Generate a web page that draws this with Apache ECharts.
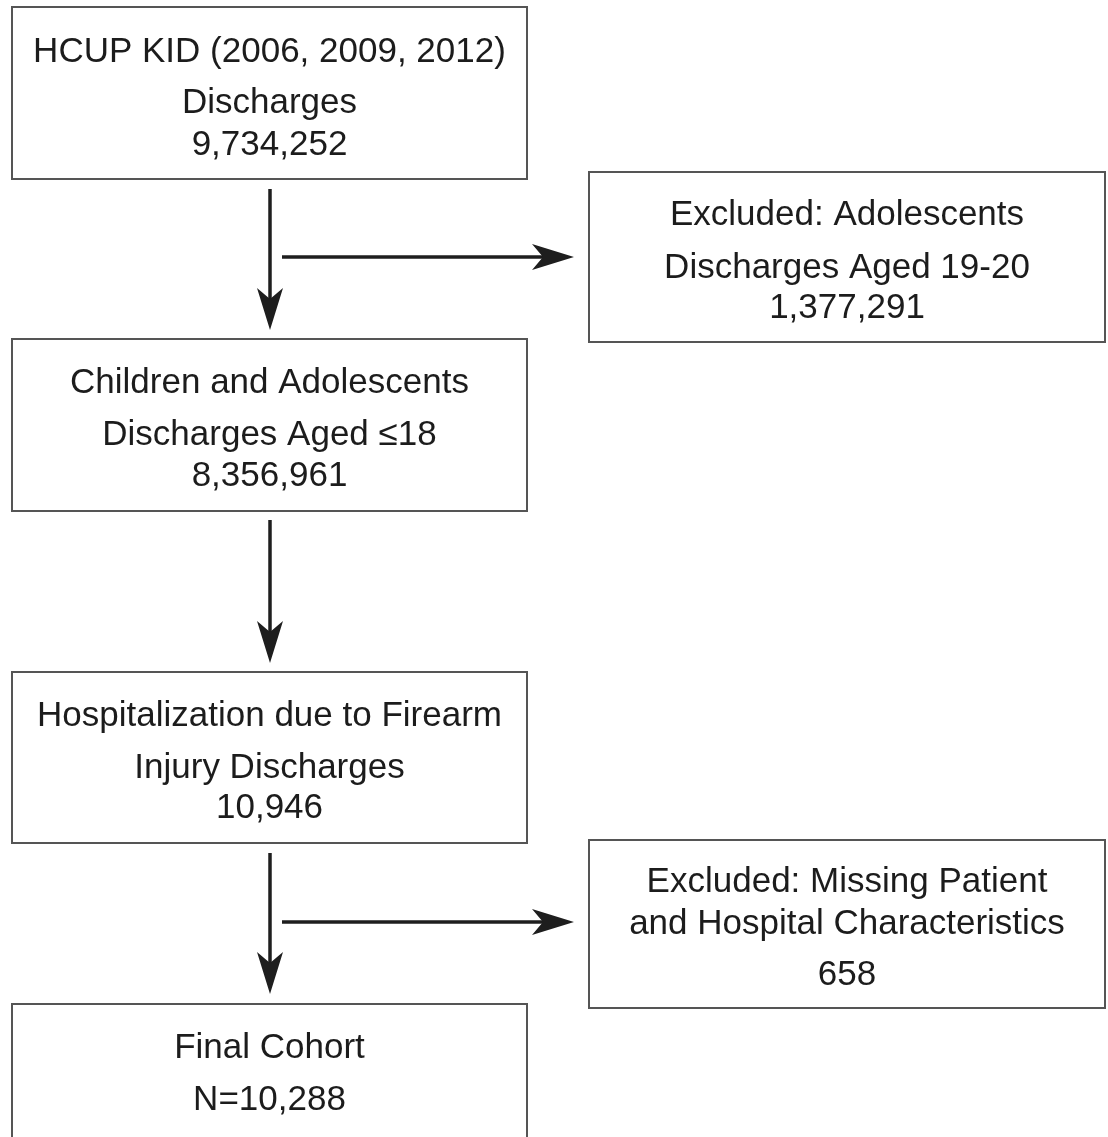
<!DOCTYPE html>
<html>
<head>
<meta charset="utf-8">
<script src="https://cdn.jsdelivr.net/npm/echarts@6/dist/echarts.min.js"></script>
<style>
html,body{margin:0;padding:0;background:#fff;}
#chart{width:1108px;height:1137px;}
</style>
</head>
<body>
<div id="chart"></div>
<script>
// ---- content ----
const mainSteps = [
  ["HCUP KID (2006, 2009, 2012)", "Discharges", "9,734,252"],
  ["Children and Adolescents", "Discharges Aged \u226418", "8,356,961"],
  ["Hospitalization due to Firearm", "Injury Discharges", "10,946"],
  ["Final Cohort", "N=10,288"]
];
const exclusions = [
  ["Excluded: Adolescents", "Discharges Aged 19-20", "1,377,291"],
  ["Excluded: Missing Patient", "and Hospital Characteristics", "658"]
];

// ---- layout (pixel space of the figure) ----
const mainLayout = [
  {x0: 12, x1: 527, y0: 7, y1: 179, lines: [50, 101, 143]},
  {x0: 12, x1: 527, y0: 339, y1: 511, lines: [381, 433, 474]},
  {x0: 12, x1: 527, y0: 672, y1: 843, lines: [714, 766, 806]},
  {x0: 12, x1: 527, y0: 1004, y1: 1142, lines: [1046, 1098]}
];
const exclLayout = [
  {x0: 589, x1: 1105, y0: 172, y1: 342, lines: [213, 266, 306]},
  {x0: 589, x1: 1105, y0: 840, y1: 1008, lines: [880, 922, 973]}
];
const arrowLayout = [
  {from: [270, 189], to: [270, 330]},
  {from: [282, 257], to: [574, 257]},
  {from: [270, 520], to: [270, 663]},
  {from: [270, 853], to: [270, 994]},
  {from: [282, 922], to: [574, 922]}
];

const boxes = [];
mainSteps.forEach((t, i) => boxes.push({texts: t, lay: mainLayout[i]}));
exclusions.forEach((t, i) => boxes.push({texts: t, lay: exclLayout[i]}));

const FONT = '"Liberation Sans", Arial, sans-serif';
const FS = 35;
const TEXT_DY = 2;

function renderBox(params, api) {
  const b = boxes[api.value(0)];
  const L = b.lay;
  const p0 = api.coord([L.x0, L.y0]);
  const p1 = api.coord([L.x1, L.y1]);
  const children = [{
    type: 'rect',
    shape: {x: p0[0], y: p0[1], width: p1[0] - p0[0], height: p1[1] - p0[1]},
    style: {fill: '#fff', stroke: '#555', lineWidth: 2}
  }];
  b.texts.forEach((t, k) => {
    const c = api.coord([(L.x0 + L.x1) / 2, L.lines[k] + TEXT_DY]);
    children.push({
      type: 'text',
      x: c[0], y: c[1],
      style: {text: t, fill: '#1c1c1c', font: FS + 'px ' + FONT, align: 'center', verticalAlign: 'middle'}
    });
  });
  return {type: 'group', children};
}

function renderArrow(params, api) {
  const a = arrowLayout[api.value(0)];
  const s = api.coord(a.from), e = api.coord(a.to);
  const dx = e[0] - s[0], dy = e[1] - s[1];
  const len = Math.hypot(dx, dy);
  const ux = dx / len, uy = dy / len, nx = -uy, ny = ux;
  const headLen = 42, halfW = 13, notch = 11;
  const bx = e[0] - ux * headLen, by = e[1] - uy * headLen;
  const mx = e[0] - ux * (headLen - notch), my = e[1] - uy * (headLen - notch);
  return {
    type: 'group',
    children: [
      {type: 'line', shape: {x1: s[0], y1: s[1], x2: mx, y2: my}, style: {stroke: '#1e1e1e', lineWidth: 3.5}},
      {type: 'polygon', shape: {points: [
        [e[0], e[1]],
        [bx + nx * halfW, by + ny * halfW],
        [mx, my],
        [bx - nx * halfW, by - ny * halfW]
      ]}, style: {fill: '#1e1e1e'}}
    ]
  };
}

const chart = echarts.init(document.getElementById('chart'), null, {renderer: 'canvas'});
chart.setOption({
  backgroundColor: '#fff',
  animation: false,
  grid: {left: 0, right: 0, top: 0, bottom: 0},
  xAxis: {type: 'value', min: 0, max: 1108, show: false},
  yAxis: {type: 'value', min: 0, max: 1137, inverse: true, show: false},
  series: [
    {type: 'custom', renderItem: renderArrow, data: arrowLayout.map((_, i) => [i]), clip: false, silent: true},
    {type: 'custom', renderItem: renderBox, data: boxes.map((_, i) => [i]), clip: false, silent: true}
  ]
});
</script>
</body>
</html>
